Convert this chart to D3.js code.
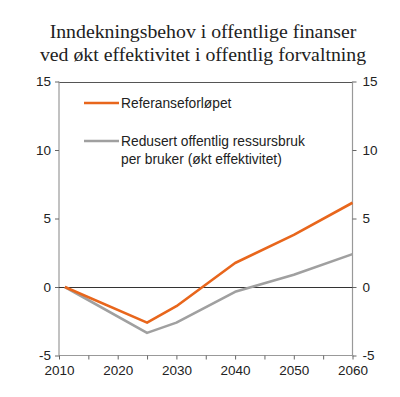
<!DOCTYPE html>
<html>
<head>
<meta charset="utf-8">
<script src="https://cdn.jsdelivr.net/npm/d3@7"></script>
<style>
  body { margin: 0; background: #fff; }
  svg { display: block; }
</style>
</head>
<body>
<div id="chart"></div>
<script>
// data
var years = [2011, 2025, 2030, 2040, 2050, 2060];
var referanse = [0, -2.6, -1.4, 1.75, 3.8, 6.15];
var effektiv = [0, -3.35, -2.6, -0.35, 0.9, 2.4];
var yTicks = [-5, 0, 5, 10, 15];
var xLabels = [2010, 2020, 2030, 2040, 2050, 2060];
var xMinor = d3.range(2010, 2061, 5);

var width = 400, height = 397;
var margin = {top: 81.5, right: 47.5, bottom: 41.5, left: 59};

var svg = d3.select("#chart").append("svg")
    .attr("width", width)
    .attr("height", height);

// title
var title = svg.append("text")
    .attr("text-anchor", "middle")
    .attr("font-family", "Liberation Serif, Times New Roman, serif")
    .attr("font-size", 19.8)
    .attr("fill", "#222");
title.append("tspan").attr("x", 203).attr("y", 38).text("Inndekningsbehov i offentlige finanser");
title.append("tspan").attr("x", 203).attr("y", 61).text("ved økt effektivitet i offentlig forvaltning");

var x = d3.scaleLinear()
    .domain([2010, 2060])
    .range([margin.left, width - margin.right]);
var y = d3.scaleLinear()
    .domain([-5, 15])
    .range([height - margin.bottom, margin.top]);

var g = svg.append("g");

// top border
g.append("line")
    .attr("x1", x(2010)).attr("x2", x(2060))
    .attr("y1", Math.round(y(15)) + 0.5).attr("y2", Math.round(y(15)) + 0.5)
    .attr("stroke", "#555").attr("stroke-width", 1);

var fmt = function (d) { return String(d); };

// left axis
var left = g.append("g")
    .attr("transform", "translate(" + x(2010) + ",0)")
    .call(d3.axisLeft(y).tickValues(yTicks).tickSize(4).tickPadding(4).tickFormat(fmt));
// right axis
var right = g.append("g")
    .attr("transform", "translate(" + x(2060) + ",0)")
    .call(d3.axisRight(y).tickValues(yTicks).tickSize(4).tickPadding(6).tickFormat(fmt));
// bottom axis
var bottom = g.append("g")
    .attr("transform", "translate(0," + y(-5) + ")")
    .call(d3.axisBottom(x).tickValues(xMinor).tickSize(4).tickPadding(6)
        .tickFormat(function (d) { return xLabels.indexOf(d) >= 0 ? d : ""; }));

[left, right, bottom].forEach(function (a) {
    a.select(".domain").attr("stroke", "#999").attr("stroke-width", 1.2);
    a.selectAll(".tick line").attr("stroke", "#666");
    a.selectAll("text")
        .attr("font-family", "Liberation Sans, Arial, sans-serif")
        .attr("font-size", 13.5)
        .attr("fill", "#222");
});
left.select(".domain").attr("d", "M0," + y(-5) + "V" + y(15));
right.select(".domain").attr("d", "M0," + y(-5) + "V" + y(15));
bottom.select(".domain").attr("d", "M" + x(2010) + ",0H" + x(2060));

// zero line
g.append("line")
    .attr("x1", x(2010)).attr("x2", x(2060))
    .attr("y1", Math.round(y(0)) + 0.5).attr("y2", Math.round(y(0)) + 0.5)
    .attr("stroke", "#333").attr("stroke-width", 1);

var line = d3.line()
    .x(function (d) { return x(d[0]); })
    .y(function (d) { return y(d[1]); });

var series = [
    {name: "effektiv", values: effektiv, color: "#a0a0a0"},
    {name: "referanse", values: referanse, color: "#e8661c"}
];

series.forEach(function (s) {
    g.append("path")
        .datum(d3.zip(years, s.values))
        .attr("fill", "none")
        .attr("stroke", s.color)
        .attr("stroke-width", 2.6)
        .attr("stroke-linejoin", "round")
        .attr("d", line);
});

// legend
var legend = svg.append("g")
    .attr("font-family", "Liberation Sans, Arial, sans-serif")
    .attr("font-size", 13.8)
    .attr("fill", "#222");

legend.append("line")
    .attr("x1", 84).attr("x2", 119).attr("y1", 103).attr("y2", 103)
    .attr("stroke", "#e8661c").attr("stroke-width", 2.6);
legend.append("text").attr("x", 121).attr("y", 108).text("Referanseforløpet");

legend.append("line")
    .attr("x1", 84).attr("x2", 119).attr("y1", 141).attr("y2", 141)
    .attr("stroke", "#a0a0a0").attr("stroke-width", 2.6);
legend.append("text").attr("x", 121).attr("y", 146).text("Redusert offentlig ressursbruk");
legend.append("text").attr("x", 121).attr("y", 164).text("per bruker (økt effektivitet)");
</script>
</body>
</html>
